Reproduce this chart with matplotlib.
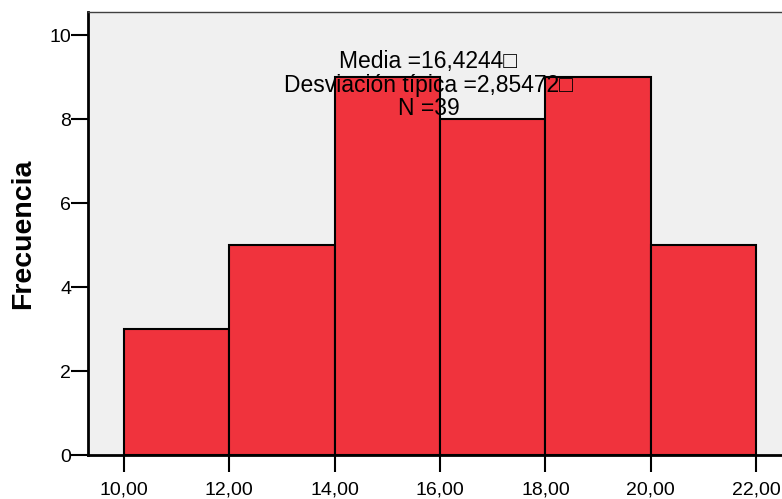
import matplotlib
matplotlib.use("Agg")
import matplotlib.pyplot as plt

# Histogram data: bin edges and frequencies
bin_edges = [10, 12, 14, 16, 18, 20, 22]
counts = [3, 5, 9, 8, 9, 5]
tick_labels = ["10,00", "12,00", "14,00", "16,00", "18,00", "20,00", "22,00"]
y_ticks = [0, 2, 4, 6, 8, 10]
stats_text = "Media =16,4244\u25a1\nDesviación típica =2,85472\u25a1\nN =39"

plt.rcParams["font.family"] = ["Liberation Sans", "DejaVu Sans"]

fig = plt.figure(figsize=(7.82, 4.99), dpi=100)
ax = fig.add_axes([88 / 782, 44 / 499, 1 - 88 / 782, 443 / 499])
ax.set_facecolor("#F0F0F0")

widths = [b - a for a, b in zip(bin_edges[:-1], bin_edges[1:])]
ax.bar(bin_edges[:-1], counts, width=widths, align="edge",
       color="#F0333D", edgecolor="black", linewidth=1.5, zorder=2)

ax.set_xlim(9.32, 22.49)
ax.set_ylim(0, 10.55)
ax.set_xticks(bin_edges)
ax.set_xticklabels(tick_labels, fontsize=14)
ax.set_yticks(y_ticks)
ax.set_yticklabels([str(v) for v in y_ticks], fontsize=14)
ax.tick_params(axis="both", direction="out", length=12, width=1.5,
               color="black")
ax.tick_params(axis="x", pad=7)
ax.tick_params(axis="y", pad=0)

for side in ("left", "bottom"):
    ax.spines[side].set_linewidth(2)
    ax.spines[side].set_color("black")
ax.spines["top"].set_linewidth(1)
ax.spines["top"].set_color("#404040")
ax.spines["right"].set_visible(False)

ax.set_ylabel("Frecuencia", fontsize=20.5, fontweight="bold")
ax.yaxis.set_label_coords(-52 / 694, 0.5)

ax.text(15.78, 8.81, stats_text, ha="center", va="center",
        multialignment="center", fontsize=16.5, linespacing=1.04, zorder=3)

fig.savefig("out.png", dpi=100)
